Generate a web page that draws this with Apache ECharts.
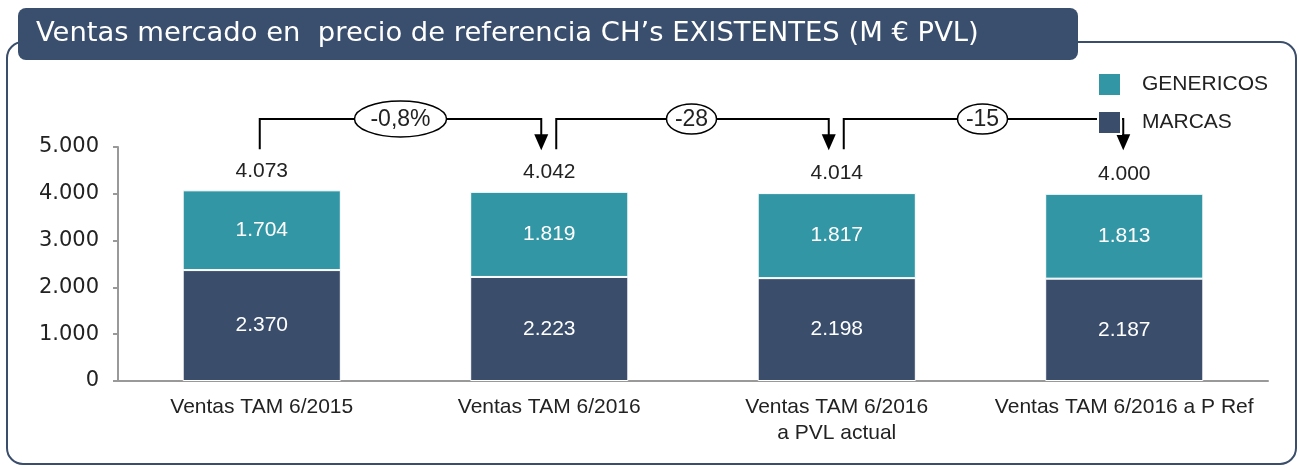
<!DOCTYPE html>
<html><head><meta charset="utf-8">
<script src="https://cdn.jsdelivr.net/npm/echarts@6/dist/echarts.min.js"></script>
<style>html,body{margin:0;padding:0;background:#fff}#c{width:1299px;height:469px}</style>
</head><body><div id="c"></div>
<script>
const categories = ['Ventas TAM 6/2015', 'Ventas TAM 6/2016', 'Ventas TAM 6/2016\na PVL actual', 'Ventas TAM 6/2016 a P Ref'];
const marcas = [2370, 2223, 2198, 2187];
const genericos = [1704, 1819, 1817, 1813];
const totals = [4073, 4042, 4014, 4000];
const changes = ['-0,8%', '-28', '-15'];
const yTicks = [0, 1000, 2000, 3000, 4000, 5000];
const titleText = 'Ventas mercado en  precio de referencia CH\u2019s EXISTENTES (M \u20ac PVL)';

const fmt = v => String(v).replace(/\B(?=(\d{3})+(?!\d))/g, '.');
const DARK = '#3a4d6b', TEAL = '#3296a5';
const FS = 21;

const chart = echarts.init(document.getElementById('c'));
chart.setOption({
  animation: false,
  grid: { left: 118, right: 31, top: 147, bottom: 88 },
  legend: {
    orient: 'vertical', left: 1092, top: 67, itemWidth: 23, itemHeight: 23, itemGap: 13,
    icon: 'rect',
    data: ['GENERICOS', 'MARCAS'],
    textStyle: { fontFamily: 'Liberation Sans', fontSize: FS, color: '#222', padding: [0, 0, 0, 16] }
  },
  xAxis: {
    type: 'category', data: categories,
    axisLine: { lineStyle: { color: '#999', width: 2 } },
    axisTick: { show: false },
    axisLabel: { interval: 0, fontFamily: 'Liberation Sans', fontSize: FS, color: '#222', margin: 13, lineHeight: 26 }
  },
  yAxis: {
    type: 'value', min: yTicks[0], max: yTicks[yTicks.length - 1], interval: 1000,
    splitLine: { show: false },
    axisLine: { show: true, lineStyle: { color: '#999', width: 2 } },
    axisTick: { show: true, length: 5, lineStyle: { color: '#999', width: 2 } },
    axisLabel: { fontFamily: 'DejaVu Sans', fontSize: 21, color: '#222', margin: 19, formatter: v => fmt(v) }
  },
  series: [
    {
      name: 'MARCAS', type: 'bar', stack: 't', barWidth: '55%', data: marcas,
      itemStyle: { color: DARK, borderColor: '#fff', borderWidth: 1 },
      label: { show: true, position: 'inside', color: '#fff', fontFamily: 'Liberation Sans', fontSize: FS, formatter: p => fmt(p.value) }
    },
    {
      name: 'GENERICOS', type: 'bar', stack: 't', barWidth: '55%', data: genericos,
      itemStyle: { color: TEAL, borderColor: '#fff', borderWidth: 1 },
      label: { show: true, position: 'inside', color: '#fff', fontFamily: 'Liberation Sans', fontSize: FS, formatter: p => fmt(p.value) }
    },
    {
      name: 'Total', type: 'bar', stack: 't', barWidth: '55%', data: totals.map(() => 0),
      itemStyle: { color: 'transparent' }, silent: true,
      label: { show: true, position: 'top', distance: 9, color: '#222', fontFamily: 'Liberation Sans', fontSize: FS, formatter: p => fmt(totals[p.dataIndex]) }
    }
  ]
});

// Frame, title box, and change brackets positioned through the chart's scales
const px = (i, v) => chart.convertToPixel({ xAxisIndex: 0, yAxisIndex: 0 }, [i, v]);
const g = [];
g.push({ type: 'rect', z: -1, shape: { x: 7, y: 42, width: 1289, height: 422, r: 16 }, style: { fill: 'none', stroke: DARK, lineWidth: 2 } });
g.push({ type: 'rect', z: 5, shape: { x: 18, y: 8, width: 1060, height: 52, r: 8 }, style: { fill: '#3a4f6e' } });
g.push({ type: 'text', z: 6, x: 36, y: 34, style: { text: titleText, fill: '#fff', fontFamily: 'DejaVu Sans', fontSize: 27.4, verticalAlign: 'middle' } });

const hY = px(0, 5600)[1];
const bY = px(0, 4950)[1];
const ellW = [46, 25, 25];
for (let k = 0; k < changes.length; k++) {
  const x0 = px(k, 0)[0] + (k === 0 ? -2 : 7);
  const x1 = px(k + 1, 0)[0] - 8 + (k === 2 ? 7 : 0);
  g.push({ type: 'polyline', shape: { points: [[x0, bY], [x0, hY], [x1, hY], [x1, bY - 14]] }, style: { stroke: '#000', lineWidth: 2, fill: 'none' } });
  g.push({ type: 'polygon', shape: { points: [[x1 - 7, bY - 15], [x1 + 7, bY - 15], [x1, bY + 1]] }, style: { fill: '#000' } });
  const cx = (x0 + x1) / 2 + (k === 0 ? 0 : -1);
  g.push({ type: 'ellipse', shape: { cx: cx, cy: hY, rx: ellW[k], ry: k === 0 ? 18 : 15 }, style: { fill: '#fff', stroke: '#000', lineWidth: 1.5 } });
  g.push({ type: 'text', x: cx, y: hY + 1, style: { text: changes[k], fill: '#222', fontFamily: 'Liberation Sans', fontSize: 23, align: 'center', verticalAlign: 'middle' } });
}
chart.setOption({ graphic: { elements: g } });
</script></body></html>
